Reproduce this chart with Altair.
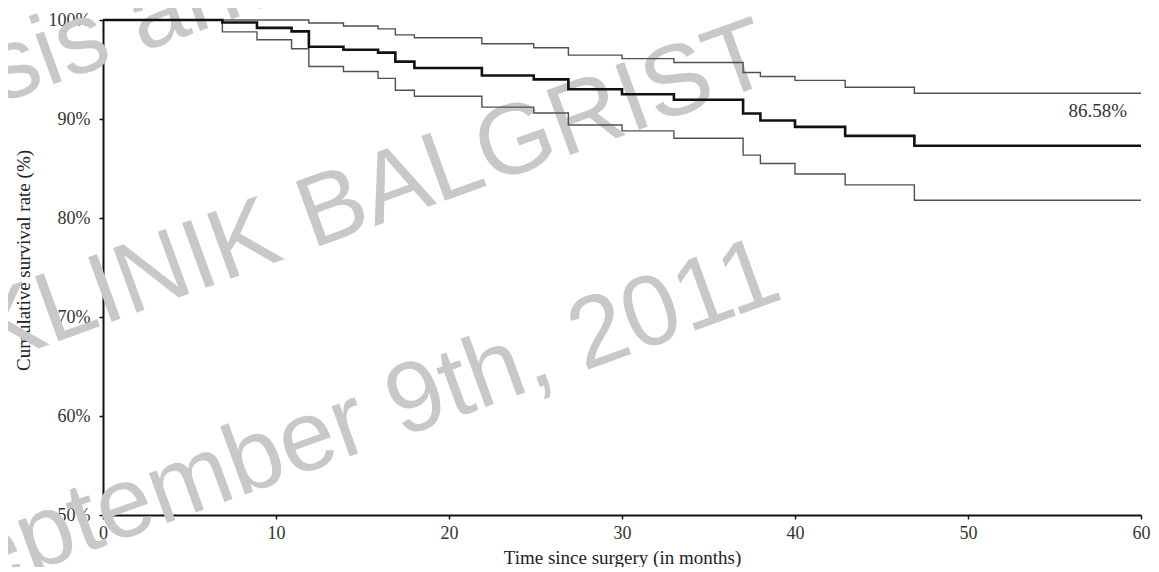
import altair as alt
import pandas as pd

# Kaplan-Meier step points (months) and survival rates (%)
months = [0, 6.9, 8.9, 10.9, 11.9, 13.9, 15.9, 16.9, 18.0, 21.9, 24.9, 26.9,
          30.0, 33.0, 37.0, 38.0, 40.0, 42.9, 46.9, 60.0]
km_estimate = [100, 99.75, 99.2, 98.85, 97.3, 97.0, 96.7, 95.8, 95.15, 94.4, 94.0, 93.0,
               92.5, 91.95, 90.55, 89.85, 89.2, 88.3, 87.3, 87.3]
ci_upper = [100, 100, 100, 100, 99.7, 99.4, 99.1, 98.5, 98.2, 97.6, 97.2, 96.45,
            96.1, 95.7, 94.7, 94.3, 93.9, 93.2, 92.6, 92.6]
ci_lower = [100, 98.8, 98.0, 97.1, 95.3, 94.8, 94.1, 92.9, 92.3, 91.2, 90.6, 89.4,
            88.8, 88.05, 86.35, 85.5, 84.45, 83.35, 81.8, 81.8]

x_ticks = [0, 10, 20, 30, 40, 50, 60]
y_ticks = [50, 60, 70, 80, 90, 100]

annotation_text = ["86.58%"]
annotation_month = [57.5]
annotation_rate = [90.8]

watermark_text = ["Thesis and Dissertations", "KLINIK BALGRIST", "September 9th, 2011"]
watermark_month = [-15.3, 15.55, 13.7]
watermark_rate = [85.6, 82.3, 58.8]
watermark_align = ["left", "center", "center"]

df_est = pd.DataFrame({"month": months, "rate": km_estimate})
df_up = pd.DataFrame({"month": months, "rate": ci_upper})
df_lo = pd.DataFrame({"month": months, "rate": ci_lower})
df_ann = pd.DataFrame({"month": annotation_month, "rate": annotation_rate, "label": annotation_text})
df_wm = pd.DataFrame({"month": watermark_month, "rate": watermark_rate,
                      "label": watermark_text, "align": watermark_align})

serif = "Liberation Serif"

x_scale = alt.Scale(domain=[0, 60], nice=False, zero=False)
y_scale = alt.Scale(domain=[50, 100], nice=False, zero=False)

x_axis = alt.Axis(values=x_ticks, grid=False, labelFont=serif, labelFontSize=18,
                  labelColor="#333333", domainColor="#111111", domainWidth=2,
                  tickColor="#111111", tickSize=4, tickWidth=1.5, labelPadding=5,
                  labelFlush=False, title="Time since surgery (in months)",
                  titleFont=serif, titleFontSize=19, titleFontWeight="normal",
                  titleColor="#222222", titlePadding=6)
y_axis = alt.Axis(values=y_ticks, grid=False, labelExpr="datum.value + '%'",
                  labelFont=serif, labelFontSize=18, labelColor="#333333",
                  domainColor="#111111", domainWidth=2, tickColor="#111111",
                  tickSize=4, tickWidth=1.5, labelPadding=9,
                  title="Cumulative survival rate (%)", titleFont=serif,
                  titleFontSize=19, titleFontWeight="normal", titleColor="#222222",
                  titleAngle=270, titleX=-80, titleY=240, titleAlign="center",
                  titleBaseline="middle")

wm_color = "#c8c8c8"
wm_left = alt.Chart(df_wm[df_wm["align"] == "left"]).mark_text(
    font="Liberation Sans", fontSize=100, color=wm_color, angle=340,
    align="left", baseline="alphabetic"
).encode(x=alt.X("month:Q", scale=x_scale), y=alt.Y("rate:Q", scale=y_scale), text="label:N")

wm_center = alt.Chart(df_wm[df_wm["align"] == "center"]).mark_text(
    font="Liberation Sans", fontSize=100, color=wm_color, angle=340,
    align="center", baseline="middle"
).encode(x=alt.X("month:Q", scale=x_scale), y=alt.Y("rate:Q", scale=y_scale), text="label:N")


def step_line(df, color, width, with_axes=False):
    if with_axes:
        enc_x = alt.X("month:Q", scale=x_scale, axis=x_axis)
        enc_y = alt.Y("rate:Q", scale=y_scale, axis=y_axis)
    else:
        enc_x = alt.X("month:Q", scale=x_scale)
        enc_y = alt.Y("rate:Q", scale=y_scale)
    return alt.Chart(df).mark_line(interpolate="step-after", color=color,
                                   strokeWidth=width).encode(x=enc_x, y=enc_y)


upper_line = step_line(df_up, "#505050", 1.4, with_axes=True)
lower_line = step_line(df_lo, "#505050", 1.4)
est_line = step_line(df_est, "#111111", 2.6)

ann = alt.Chart(df_ann).mark_text(font=serif, fontSize=19, color="#333333",
                                  align="center", baseline="middle").encode(
    x=alt.X("month:Q", scale=x_scale), y=alt.Y("rate:Q", scale=y_scale), text="label:N")

chart = alt.layer(wm_left, wm_center, upper_line, lower_line, est_line, ann).properties(
    width=1038, height=495,
    autosize=alt.AutoSizeParams(type="none"),
    padding={"left": 95, "top": 12, "right": 10, "bottom": 52},
    background="white",
).configure_view(stroke=None)

chart.save("out.html", embed_options={"renderer": "svg", "actions": False})
